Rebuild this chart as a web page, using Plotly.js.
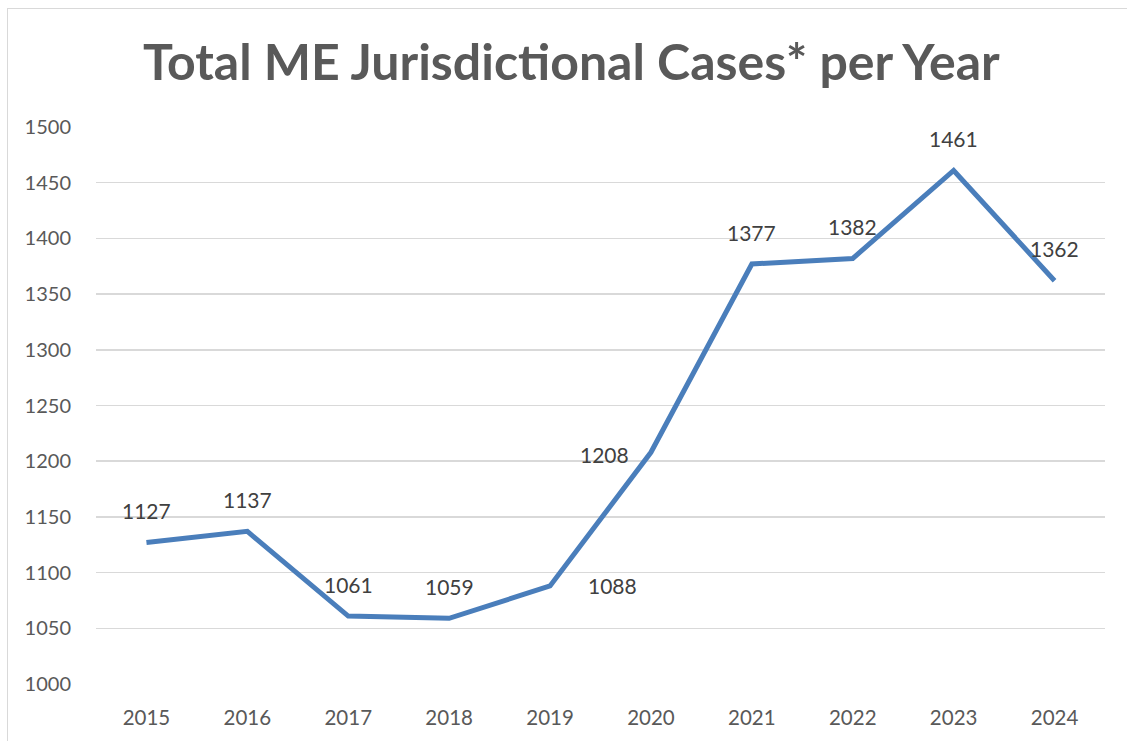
<!DOCTYPE html>
<html>
<head>
<meta charset="utf-8">
<script src="https://cdn.plot.ly/plotly-3.0.1.min.js"></script>
<style>
html,body{margin:0;padding:0;background:#fff;overflow:hidden;}
#chart{position:absolute;left:0;top:0;width:1127px;height:741px;}
#frame{position:absolute;left:7px;top:8px;width:1140px;height:760px;border:1.5px solid #d9d9d9;pointer-events:none;box-sizing:border-box;}
</style>
</head>
<body>
<div id="chart"></div>
<div id="frame"></div>
<script>
const years = ['2015','2016','2017','2018','2019','2020','2021','2022','2023','2024'];
const cases = [1127, 1137, 1061, 1059, 1088, 1208, 1377, 1382, 1461, 1362];
const labelPlacement = ['above','above','above','above','right','left','above','above','above','above'];

const offsets = {
  above: {xshift: 0, yshift: 32},
  right: {xshift: 62, yshift: 0},
  left: {xshift: -46, yshift: -2}
};

const annotations = years.map((y, i) => Object.assign({
  x: i, y: cases[i], xref: 'x', yref: 'y',
  text: String(cases[i]), showarrow: false,
  font: {family: 'Lato, sans-serif', size: 21, color: '#404040'}
}, offsets[labelPlacement[i]]));

const trace = {
  x: years, y: cases, type: 'scatter', mode: 'lines',
  line: {color: '#4a7ebb', width: 5},
  hoverinfo: 'x+y'
};

const layout = {
  width: 1127, height: 741,
  margin: {l: 96, r: 22, t: 127, b: 57, pad: 0},
  paper_bgcolor: '#ffffff', plot_bgcolor: '#ffffff',
  showlegend: false,
  title: {
    text: '<b>Total ME Jurisdictional Cases* per Year</b>',
    font: {family: 'Lato, sans-serif', size: 50, color: '#595959'},
    x: 0.507, xanchor: 'center', xref: 'container',
    y: 1 - 62/741, yanchor: 'middle', yref: 'container'
  },
  xaxis: {
    type: 'category', categoryorder: 'array', categoryarray: years,
    range: [-0.5, years.length - 0.5],
    showgrid: false, zeroline: false, showline: false,
    ticks: 'outside', ticklen: 15, tickcolor: 'rgba(0,0,0,0)',
    tickfont: {family: 'Lato, sans-serif', size: 20.5, color: '#595959'},
    fixedrange: true
  },
  yaxis: {
    range: [1000, 1500], dtick: 50, tick0: 1000,
    showgrid: true, gridcolor: '#d9d9d9', gridwidth: 1.5,
    zeroline: false, showline: false,
    ticks: 'outside', ticklen: 20, tickcolor: 'rgba(0,0,0,0)',
    tickfont: {family: 'Lato, sans-serif', size: 20, color: '#595959'},
    fixedrange: true
  },
  annotations: annotations
};

Plotly.newPlot('chart', [trace], layout, {displayModeBar: false, staticPlot: true});
</script>
</body>
</html>
